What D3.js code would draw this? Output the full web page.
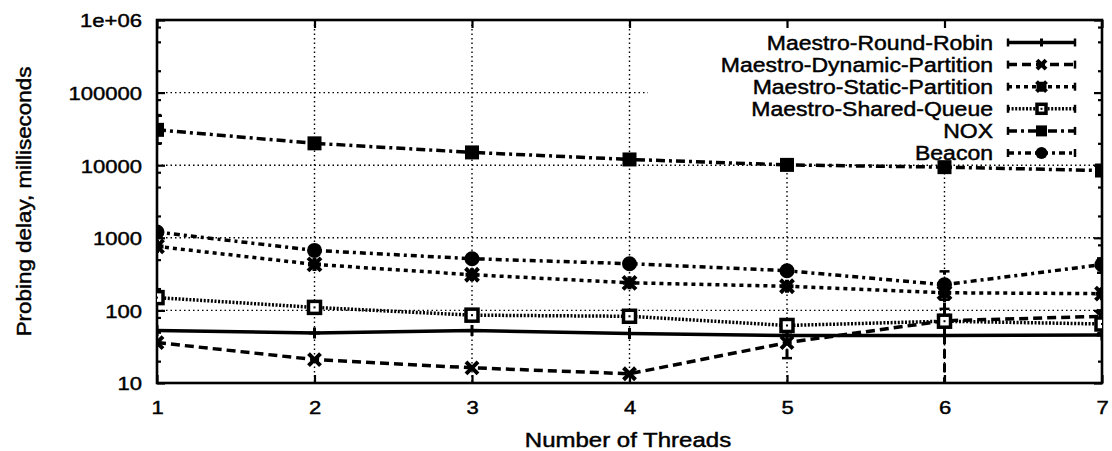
<!DOCTYPE html>
<html><head><meta charset="utf-8">
<script src="https://cdn.jsdelivr.net/npm/d3@7/dist/d3.min.js"></script>
<style>
body{margin:0;background:#fff;}
svg text{font-family:"Liberation Sans",Arial,Helvetica,sans-serif;fill:#000;stroke:#000;stroke-width:0.45px;}
</style></head>
<body>
<svg id="chart" width="1112" height="451"></svg>
<script>
// ---- data ----
const threads = [1, 2, 3, 4, 5, 6, 7];
const xTickLabels = ["1", "2", "3", "4", "5", "6", "7"];
const yTickValues = [10, 100, 1000, 10000, 100000, 1000000];
const yTickLabels = ["10", "100", "1000", "10000", "100000", "1e+06"];
const yMinorMultipliers = [2, 5, 8];

const seriesNames = ["Maestro-Round-Robin", "Maestro-Dynamic-Partition", "Maestro-Static-Partition",
  "Maestro-Shared-Queue", "NOX", "Beacon"];

const roundRobin       = [53, 49, 53, 48, 45, 45, 46];
const dynamicPartition = [36, 21, 16.2, 13.4, 36, 72, 83];
const staticPartition  = [760, 430, 310, 240, 215, 175, 170];
const sharedQueue      = [150, 110, 86, 83, 62, 71, 65];
const nox              = [30700, 20000, 15000, 12000, 10100, 9400, 8450];
const beacon           = [1200, 670, 515, 440, 352, 226, 427];

// error bars (low, high); null = bar hidden behind marker
const roundRobinErr       = [null, null, null, null, null, null, null];
const dynamicPartitionErr = [null, null, null, null, [22, 50], [9, 140], null];
const staticPartitionErr  = [null, null, null, null, null, null, null];
const sharedQueueErr      = [null, null, null, null, null, null, [48, 100]];
const noxErr              = [[20000, 48000], null, null, null, null, null, null];
const beaconErr           = [null, null, null, null, null, [105, 345], [330, 520]];

const seriesValues = [roundRobin, dynamicPartition, staticPartition, sharedQueue, nox, beacon];
const seriesErrors = [roundRobinErr, dynamicPartitionErr, staticPartitionErr, sharedQueueErr, noxErr, beaconErr];

// ---- styles ----
const dashes  = ["none", "9,5", "4,4", "2,1.6", "9,4,3,4", "6,4,3,4"];
const markers = ["plus", "cross", "star", "openSquare", "filledSquare", "filledCircle"];

const svg = d3.select("#chart");
const L = 157, R = 1102, T = 20, B = 383;
const x = d3.scaleLinear().domain([1, 7]).range([L, R]);
const y = d3.scaleLog().domain([10, 1e6]).range([B, T]);

const STRETCH = 1.16;
function stretch(sel, f) {
  sel.each(function () {
    const len = this.getComputedTextLength();
    d3.select(this).attr("textLength", len * (f || STRETCH)).attr("lengthAdjust", "spacingAndGlyphs");
  });
}

// clip for grid (legend area blanked)
const defs = svg.append("defs");
defs.append("clipPath").attr("id", "plotclip").append("rect")
  .attr("x", L).attr("y", T).attr("width", R - L).attr("height", B - T);
const gridMask = defs.append("mask").attr("id", "gridmask");
gridMask.append("rect").attr("x", 0).attr("y", 0).attr("width", 1112).attr("height", 451).attr("fill", "#fff");
gridMask.append("rect").attr("x", 648).attr("y", T).attr("width", R - 648).attr("height", 143).attr("fill", "#000");

// grid
const grid = svg.append("g").attr("mask", "url(#gridmask)")
  .attr("stroke", "#000").attr("stroke-width", 1.4).attr("stroke-dasharray", "1.5,3");
grid.selectAll("line.h").data(yTickValues.slice(1, -1)).join("line")
  .attr("x1", L).attr("x2", R).attr("y1", d => y(d)).attr("y2", d => y(d));
grid.selectAll("line.v").data(threads.slice(1, -1)).join("line")
  .attr("y1", T).attr("y2", B).attr("x1", d => x(d)).attr("x2", d => x(d));

// axes via d3 axis generators, ticks drawn inward
const minorVals = [];
yTickValues.slice(0, -1).forEach(v => yMinorMultipliers.forEach(m => minorVals.push(v * m)));

function styleAxis(g) {
  g.select(".domain").remove();
  g.selectAll(".tick line").attr("stroke", "#000").attr("stroke-width", 2.2);
}
const yAxisL = d3.axisLeft(y).tickValues(yTickValues).tickSize(-8).tickFormat((d, i) => yTickLabels[i]).tickPadding(16);
const gL = svg.append("g").attr("transform", `translate(${L},0)`).call(yAxisL).call(styleAxis);
gL.selectAll(".tick text").attr("font-size", 19).attr("dy", "0.36em").attr("x", -15);
svg.append("g").attr("transform", `translate(${L},0)`)
  .call(d3.axisLeft(y).tickValues(minorVals).tickSize(-4).tickFormat("")).call(styleAxis);
svg.append("g").attr("transform", `translate(${R},0)`)
  .call(d3.axisRight(y).tickValues(yTickValues).tickSize(-8).tickFormat("")).call(styleAxis);
svg.append("g").attr("transform", `translate(${R},0)`)
  .call(d3.axisRight(y).tickValues(minorVals).tickSize(-4).tickFormat("")).call(styleAxis);

const xAxisB = d3.axisBottom(x).tickValues(threads).tickSize(-8).tickFormat((d, i) => xTickLabels[i]);
const gB = svg.append("g").attr("transform", `translate(0,${B})`).call(xAxisB).call(styleAxis);
gB.selectAll(".tick text").attr("font-size", 19).attr("y", 31).attr("dy", 0);
svg.append("g").attr("transform", `translate(0,${T})`)
  .call(d3.axisTop(x).tickValues(threads).tickSize(-8).tickFormat("")).call(styleAxis);
stretch(gL.selectAll(".tick text"));
stretch(gB.selectAll(".tick text"));

// border
svg.append("rect").attr("x", L).attr("y", T).attr("width", R - L).attr("height", B - T)
  .attr("fill", "none").attr("stroke", "#000").attr("stroke-width", 2.6);

// markers
function drawMarker(g, type, cx, cy, s) {
  const h = s / 2;
  if (type === "plus") {
    g.append("path").attr("d", `M${cx - h},${cy}H${cx + h}M${cx},${cy - h}V${cy + h}`)
      .attr("stroke", "#000").attr("stroke-width", 3).attr("fill", "none");
  } else if (type === "cross") {
    g.append("path").attr("d", `M${cx - h},${cy - h}L${cx + h},${cy + h}M${cx - h},${cy + h}L${cx + h},${cy - h}`)
      .attr("stroke", "#000").attr("stroke-width", 4).attr("fill", "none");
  } else if (type === "star") {
    g.append("path").attr("d", `M${cx - h},${cy - h}L${cx + h},${cy + h}M${cx - h},${cy + h}L${cx + h},${cy - h}M${cx - h},${cy}H${cx + h}M${cx},${cy - h}V${cy + h}`)
      .attr("stroke", "#000").attr("stroke-width", 4).attr("fill", "none");
  } else if (type === "openSquare") {
    g.append("rect").attr("x", cx - h).attr("y", cy - h).attr("width", s).attr("height", s)
      .attr("fill", "#fff").attr("stroke", "#000").attr("stroke-width", 3.5);
    g.append("rect").attr("x", cx - 1).attr("y", cy - 1).attr("width", 2).attr("height", 2).attr("fill", "#000");
  } else if (type === "filledSquare") {
    g.append("rect").attr("x", cx - h).attr("y", cy - h).attr("width", s).attr("height", s).attr("fill", "#000");
  } else if (type === "filledCircle") {
    g.append("circle").attr("cx", cx).attr("cy", cy).attr("r", h).attr("fill", "#000");
  }
}
const markerSize = [11, 12, 13, 12, 14, 15];

// series
const plot = svg.append("g").attr("clip-path", "url(#plotclip)");
const line = d3.line().x((d, i) => x(threads[i])).y(d => y(d));
seriesValues.forEach((vals, si) => {
  const g = plot.append("g");
  // error bars
  seriesErrors[si].forEach((e, i) => {
    if (!e) return;
    const cx = x(threads[i]);
    g.append("line").attr("x1", cx).attr("x2", cx).attr("y1", y(e[0])).attr("y2", y(e[1]))
      .attr("stroke", "#000").attr("stroke-width", 3).attr("stroke-dasharray", dashes[si]);
    [e[0], e[1]].forEach(v => g.append("line").attr("x1", cx - 5).attr("x2", cx + 5)
      .attr("y1", y(v)).attr("y2", y(v)).attr("stroke", "#000").attr("stroke-width", 2.5));
  });
  g.append("path").attr("d", line(vals)).attr("fill", "none").attr("stroke", "#000")
    .attr("stroke-width", 3.5).attr("stroke-dasharray", dashes[si]);
  vals.forEach((v, i) => drawMarker(g, markers[si], x(threads[i]), y(v), markerSize[si]));
});

// legend
const leg = svg.append("g");
const legTextX = 993, legX1 = 1008, legX2 = 1075, legY0 = 42.5, legDY = 22.1;
seriesNames.forEach((name, i) => {
  const yy = legY0 + i * legDY;
  const t = leg.append("text").attr("x", legTextX).attr("y", yy).attr("dy", "0.36em")
    .attr("text-anchor", "end").attr("font-size", 20).text(name);
  stretch(t, 1.15);
  leg.append("line").attr("x1", legX1).attr("x2", legX2).attr("y1", yy).attr("y2", yy)
    .attr("stroke", "#000").attr("stroke-width", 3.5).attr("stroke-dasharray", dashes[i]);
  [legX1, legX2].forEach(xx => leg.append("line").attr("x1", xx).attr("x2", xx)
    .attr("y1", yy - 4).attr("y2", yy + 4).attr("stroke", "#000").attr("stroke-width", 2.5));
  drawMarker(leg, markers[i], (legX1 + legX2) / 2, yy, Math.max(8, markerSize[i] - 3));
});

// axis titles
const xt = svg.append("text").attr("x", 628).attr("y", 447).attr("text-anchor", "middle")
  .attr("font-size", 20).text("Number of Threads");
stretch(xt, 1.2);
const yt = svg.append("text").attr("transform", `translate(31,${(T + B) / 2}) rotate(-90)`)
  .attr("text-anchor", "middle").attr("font-size", 20).text("Probing delay, milliseconds");
stretch(yt, 1.12);
</script>
</body></html>
